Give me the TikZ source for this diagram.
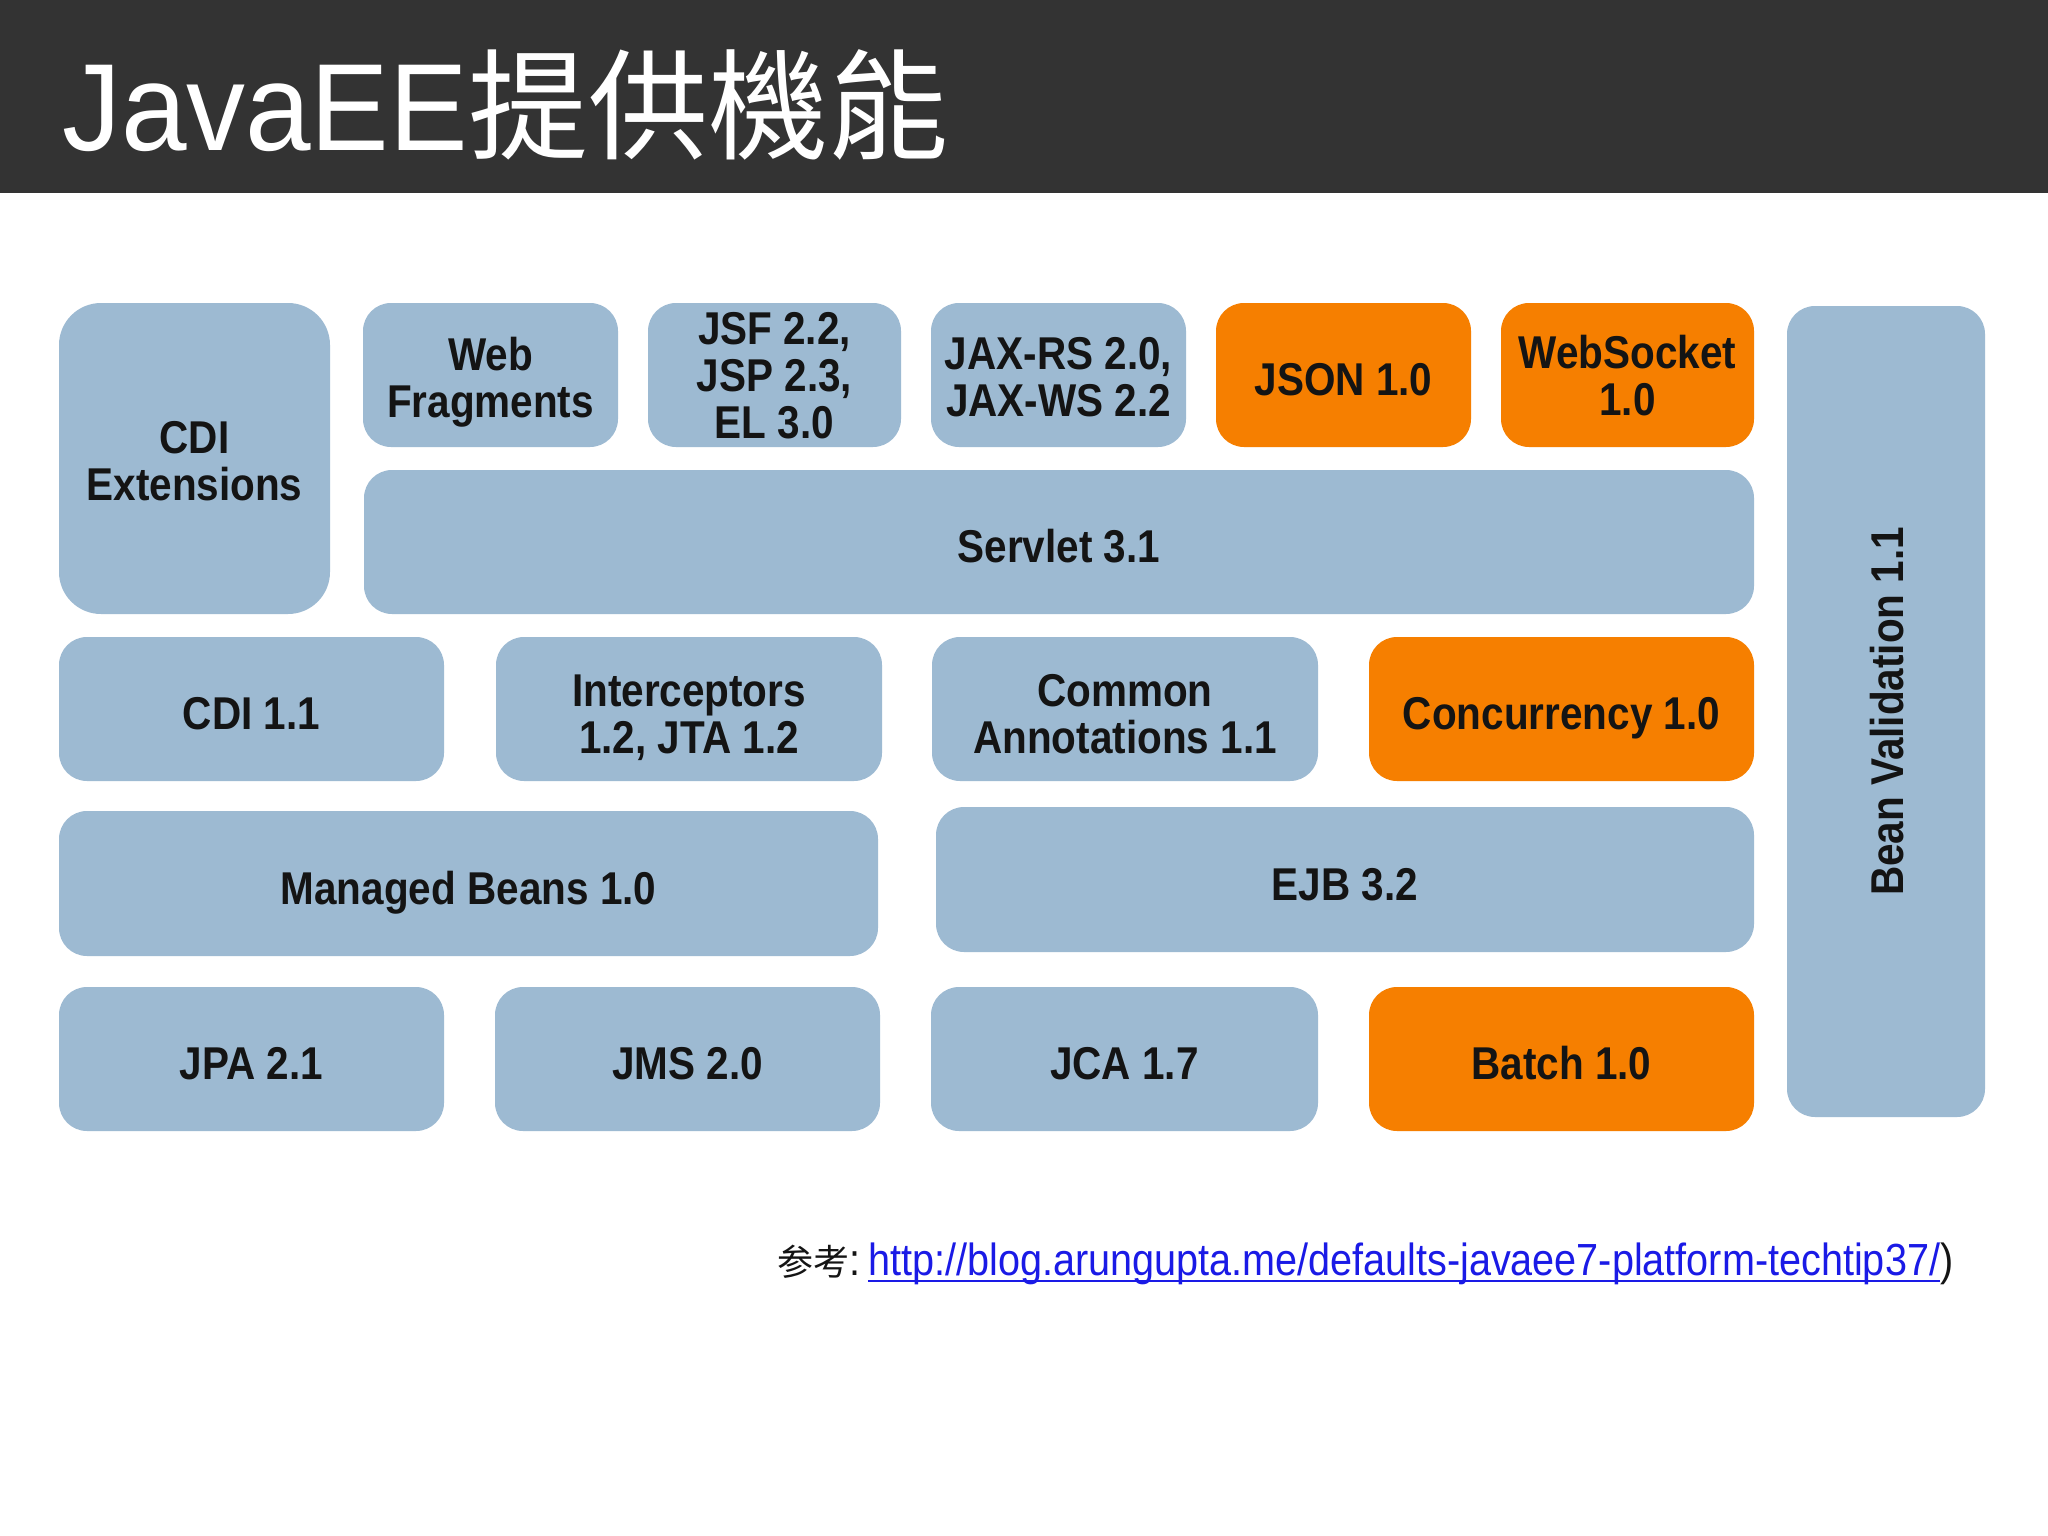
\documentclass[tikz,border=0pt]{standalone}
\usepackage{fontspec}
\setmainfont{Liberation Sans}
\newfontfamily\boxfont[FakeStretch=0.88]{Liberation Sans}
\newfontfamily\titlefont[FakeStretch=0.95]{Liberation Sans}
\newfontfamily\cjk{Noto Sans CJK TC}
\newfontfamily\urlfont[FakeStretch=0.88]{Liberation Sans}
\definecolor{boxblue}{HTML}{9DBAD2}
\definecolor{boxorange}{HTML}{F67F00}
\definecolor{hdr}{HTML}{333333}
\definecolor{linkblue}{HTML}{1A1AE6}
\definecolor{txt}{HTML}{141414}
\tikzset{
  base box/.style={anchor=north west, inner sep=0pt, outer sep=0pt, rounded corners=28pt,
    align=center, text=txt, text depth=0pt, text height=41pt, font=\boxfont\bfseries\fontsize{46}{47}\selectfont},
  bluebox/.style={base box, fill=boxblue},
  orangebox/.style={base box, fill=boxorange},
  two lines/.style={text height=#1},
  two lines/.default=86pt,
}
\begin{document}
\begin{tikzpicture}[x=1pt,y=-1pt]
\fill[white] (0,0) rectangle (2048,1536);
\useasboundingbox (0,0) rectangle (2048,1536);
\fill[hdr] (0,0) rectangle (2048,193);
\node[anchor=base west, inner sep=0pt, text=white] (title) at (62,150)
  {{\titlefont\fontsize{124}{124}\selectfont JavaEE}{\cjk\fontsize{120}{120}\selectfont 提供機能}};
% row 1
\node[bluebox, two lines=83pt, rounded corners=42pt, minimum width=271pt, minimum height=311pt] (cdiext) at (59,303) {CDI\\Extensions};
\node[bluebox, two lines=85pt, minimum width=255pt, minimum height=144pt] (webfrag) at (363,303) {Web\\Fragments};
\node[bluebox, text height=127pt, minimum width=253pt, minimum height=144pt] (jsf) at (648,303) {JSF 2.2,\\JSP 2.3,\\EL 3.0};
\node[bluebox, two lines=82pt, minimum width=255pt, minimum height=144pt] (jaxrs) at (931,303) {JAX-RS 2.0,\\JAX-WS 2.2};
\node[orangebox, minimum width=255pt, minimum height=144pt] (json) at (1216,303) {JSON 1.0};
\node[orangebox, two lines=81pt, minimum width=253pt, minimum height=144pt] (websocket) at (1501,303) {WebSocket\\1.0};
% servlet
\node[bluebox, minimum width=1390pt, minimum height=144pt] (servlet) at (364,470) {Servlet 3.1};
% bean validation
\node[base box, fill=boxblue, anchor=center, rotate=90, text height=34pt, minimum width=811pt, minimum height=198pt] (bean) at (1886,711.5) {Bean Validation 1.1};
% row 3
\node[bluebox, minimum width=385pt, minimum height=144pt] (cdi) at (59,637) {CDI 1.1};
\node[bluebox, two lines=88pt, minimum width=386pt, minimum height=144pt] (interc) at (496,637) {Interceptors\\1.2, JTA 1.2};
\node[bluebox, two lines=88pt, minimum width=386pt, minimum height=144pt] (common) at (932,637) {Common\\Annotations 1.1};
\node[orangebox, minimum width=385pt, minimum height=144pt] (conc) at (1369,637) {Concurrency 1.0};
% row 4
\node[bluebox, minimum width=819pt, minimum height=145pt] (managed) at (59,811) {Managed Beans 1.0};
\node[bluebox, minimum width=818pt, minimum height=145pt] (ejb) at (936,807) {EJB 3.2};
% row 5
\node[bluebox, minimum width=385pt, minimum height=144pt] (jpa) at (59,987) {JPA 2.1};
\node[bluebox, minimum width=385pt, minimum height=144pt] (jms) at (495,987) {JMS 2.0};
\node[bluebox, minimum width=387pt, minimum height=144pt] (jca) at (931,987) {JCA 1.7};
\node[orangebox, minimum width=385pt, minimum height=144pt] (batch) at (1369,987) {Batch 1.0};
% footer
\node[anchor=base west, inner sep=0pt, text=txt] (ref) at (777,1275)
  {{\cjk\fontsize{36}{36}\selectfont 参考}{\urlfont\fontsize{45}{45}\selectfont:\,}};
\node[anchor=base west, inner sep=0pt, text=linkblue, font=\urlfont\fontsize{45}{45}\selectfont] (url) at (ref.base east)
  {http://blog.arungupta.me/defaults-javaee7-platform-techtip37/};
\node[anchor=base west, inner sep=0pt, text=txt, font=\urlfont\fontsize{45}{45}\selectfont] (paren) at (url.base east) {)};
\draw[linkblue, line width=2.5pt] ([yshift=-6pt]url.base west) -- ([yshift=-6pt]url.base east);
\end{tikzpicture}
\end{document}
